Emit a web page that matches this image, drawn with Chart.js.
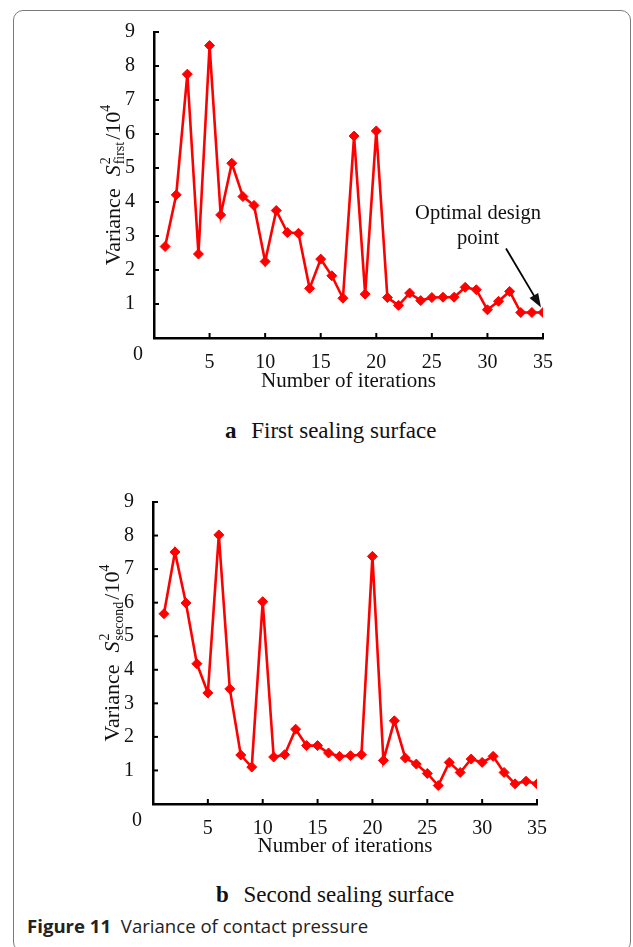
<!DOCTYPE html>
<html>
<head>
<meta charset="utf-8">
<script src="https://cdn.jsdelivr.net/npm/chart.js@4/dist/chart.umd.min.js"></script>
<style>
  body { margin: 0; background: #fff; }
  #page { position: relative; width: 633px; height: 947px; overflow: hidden; }
  #frame { position: absolute; left: 13px; top: 10px; width: 616px; height: 940px;
           border: 1.5px solid #7a7a7a; border-radius: 10px; }
  canvas { position: absolute; left: 0; }
  .sub { position: absolute; font-family: "Liberation Serif", serif; font-size: 23px; color: #111;
         white-space: nowrap; }
  .sub b { margin-right: 9px; }
  #figcap { position: absolute; left: 27px; top: 913px; font-family: "Open Sans", sans-serif;
            font-size: 18.6px; color: #222; white-space: nowrap; }
</style>
</head>
<body>
<div id="page">
  <div id="frame"></div>
  <canvas id="first" width="633" height="400" style="top:0"></canvas>
  <div class="sub" style="left:225px; top:418px"><b>a</b> First sealing surface</div>
  <canvas id="second" width="633" height="400" style="top:470px"></canvas>
  <div class="sub" style="left:216px; top:882px"><b>b</b> Second sealing surface</div>
  <div id="figcap"><b>Figure 11</b>&nbsp; Variance of contact pressure</div>
</div>
<script>
const iterations = [1, 2, 3, 4, 5, 6, 7, 8, 9, 10, 11, 12, 13, 14, 15, 16, 17, 18,
  19, 20, 21, 22, 23, 24, 25, 26, 27, 28, 29, 30, 31, 32, 33, 34, 35];

// variance of contact pressure, units of 10^4
const firstSurface = [2.69, 4.21, 7.76, 2.47, 8.60, 3.62, 5.14, 4.16, 3.90, 2.25,
  3.75, 3.10, 3.08, 1.46, 2.32, 1.83, 1.17, 5.94, 1.29, 6.09, 1.19, 0.96, 1.32,
  1.10, 1.19, 1.20, 1.20, 1.49, 1.42, 0.83, 1.08, 1.37, 0.75, 0.75, 0.75];
const secondSurface = [5.67, 7.51, 5.99, 4.18, 3.31, 8.02, 3.43, 1.46, 1.10, 6.03,
  1.40, 1.47, 2.23, 1.74, 1.74, 1.52, 1.42, 1.44, 1.47, 7.38, 1.30, 2.48, 1.37,
  1.19, 0.91, 0.55, 1.24, 0.94, 1.34, 1.24, 1.42, 0.94, 0.60, 0.68, 0.60];

const xTicks = [0, 5, 10, 15, 20, 25, 30, 35];
const yTicks = [0, 1, 2, 3, 4, 5, 6, 7, 8, 9];

const SERIF = '"Liberation Serif", "Times New Roman", serif';
const RED = '#ff0000';

function points(ys) {
  return iterations.map((n, i) => ({x: n, y: ys[i]}));
}

// inward tick marks, shared origin label, y title with sub/superscripts, arrow note
const figureDecor = {
  id: 'figureDecor',
  afterDraw(chart, args, opts) {
    const ctx = chart.ctx;
    const {left, bottom} = chart.chartArea;
    const xs = chart.scales.x, ys = chart.scales.y;
    ctx.save();
    ctx.strokeStyle = '#000';
    ctx.lineWidth = 2;
    xTicks.slice(1).forEach(v => {
      const px = xs.getPixelForValue(v);
      ctx.beginPath(); ctx.moveTo(px, bottom); ctx.lineTo(px, bottom - 5); ctx.stroke();
    });
    yTicks.slice(1).forEach(v => {
      const py = ys.getPixelForValue(v);
      ctx.beginPath(); ctx.moveTo(left, py); ctx.lineTo(left + 5, py); ctx.stroke();
    });

    ctx.fillStyle = '#111';
    ctx.font = '20px ' + SERIF;
    ctx.textAlign = 'right';
    ctx.textBaseline = 'middle';
    ctx.fillText('0', left - 11, bottom + 17);

    // rotated y title: Variance  S^2_sub /10^4
    const big = '22px ' + SERIF, bigIt = 'italic 22px ' + SERIF, small = '14px ' + SERIF;
    ctx.font = big;
    const wVar = ctx.measureText('Variance').width;
    ctx.font = bigIt;
    const wS = ctx.measureText('S').width;
    ctx.font = small;
    const wSub = Math.max(ctx.measureText(opts.sub).width, ctx.measureText('2').width);
    const w4 = ctx.measureText('4').width;
    ctx.font = big;
    const w10 = ctx.measureText('/10').width;
    const gap = 12;
    const total = wVar + gap + wS + 1 + wSub + 2 + w10 + w4;
    const cy = (chart.chartArea.top + bottom) / 2;
    ctx.translate(opts.titleX, cy);
    ctx.rotate(-Math.PI / 2);
    ctx.textAlign = 'left';
    ctx.textBaseline = 'alphabetic';
    let x = -total / 2;
    ctx.font = big; ctx.fillText('Variance', x, 0); x += wVar + gap;
    ctx.font = bigIt; ctx.fillText('S', x, 0); x += wS + 1;
    ctx.font = small; ctx.fillText('2', x, -10); ctx.fillText(opts.sub, x, 4); x += wSub + 2;
    ctx.font = big; ctx.fillText('/10', x, 0); x += w10;
    ctx.font = small; ctx.fillText('4', x, -10);
    ctx.restore();

    if (opts.note) {
      const meta = chart.getDatasetMeta(0);
      const last = meta.data[meta.data.length - 1];
      const tipX = last.x - 2, tipY = last.y - 5;
      const tailX = last.x - 37, tailY = last.y - 64;
      ctx.save();
      ctx.fillStyle = '#111';
      ctx.font = '20.5px ' + SERIF;
      ctx.textAlign = 'center';
      ctx.textBaseline = 'middle';
      ctx.fillText('Optimal design', last.x - 65, last.y - 99);
      ctx.fillText('point', last.x - 65, last.y - 74);
      const ang = Math.atan2(tipY - tailY, tipX - tailX);
      ctx.strokeStyle = '#000';
      ctx.lineWidth = 1.8;
      ctx.beginPath(); ctx.moveTo(tailX, tailY);
      ctx.lineTo(tipX - 10 * Math.cos(ang), tipY - 10 * Math.sin(ang)); ctx.stroke();
      ctx.beginPath();
      ctx.moveTo(tipX, tipY);
      ctx.lineTo(tipX - 14 * Math.cos(ang) + 5 * Math.sin(ang), tipY - 14 * Math.sin(ang) - 5 * Math.cos(ang));
      ctx.lineTo(tipX - 14 * Math.cos(ang) - 5 * Math.sin(ang), tipY - 14 * Math.sin(ang) + 5 * Math.cos(ang));
      ctx.closePath(); ctx.fill();
      ctx.restore();
    }
  }
};

function makeChart(id, values, box) {
  return new Chart(document.getElementById(id), {
    type: 'line',
    data: {
      datasets: [{
        data: points(values),
        borderColor: RED,
        backgroundColor: RED,
        borderWidth: 2.6,
        pointStyle: 'rectRot',
        pointRadius: 5,
        pointBorderWidth: 1,
        tension: 0
      }]
    },
    options: {
      responsive: false,
      animation: false,
      layout: {padding: {left: 0, top: box.top, right: box.right, bottom: 0}},
      plugins: {
        legend: {display: false},
        tooltip: {enabled: false},
        figureDecor: {sub: box.sub, note: box.note, titleX: box.titleX}
      },
      scales: {
        x: {
          type: 'linear', min: 0, max: 35,
          afterBuildTicks: s => { s.ticks = xTicks.map(v => ({value: v})); },
          afterFit: s => { s.height = box.xHeight; },
          grid: {display: false},
          border: {color: '#000', width: 2.5},
          ticks: {color: '#111', padding: 5, font: {family: SERIF, size: 20},
                  callback: v => v === 0 ? '' : v},
          title: {display: true, text: 'Number of iterations', color: '#111',
                  font: {family: SERIF, size: 21}, padding: {top: 0, bottom: box.titlePad}}
        },
        y: {
          min: 0, max: 9,
          afterBuildTicks: s => { s.ticks = yTicks.map(v => ({value: v})); },
          afterFit: s => { s.width = box.left; },
          grid: {display: false},
          border: {color: '#000', width: 2.5},
          ticks: {color: '#111', padding: 11, font: {family: SERIF, size: 20},
                  callback: v => v === 0 ? '' : v}
        }
      }
    },
    plugins: [figureDecor]
  });
}

makeChart('first', firstSurface,
  {left: 154, top: 32, right: 90, xHeight: 62, titlePad: 6, sub: 'first', note: true, titleX: 120});
makeChart('second', secondSurface,
  {left: 153, top: 32, right: 96, xHeight: 66, titlePad: 11, sub: 'second', note: false, titleX: 119});
</script>
</body>
</html>
